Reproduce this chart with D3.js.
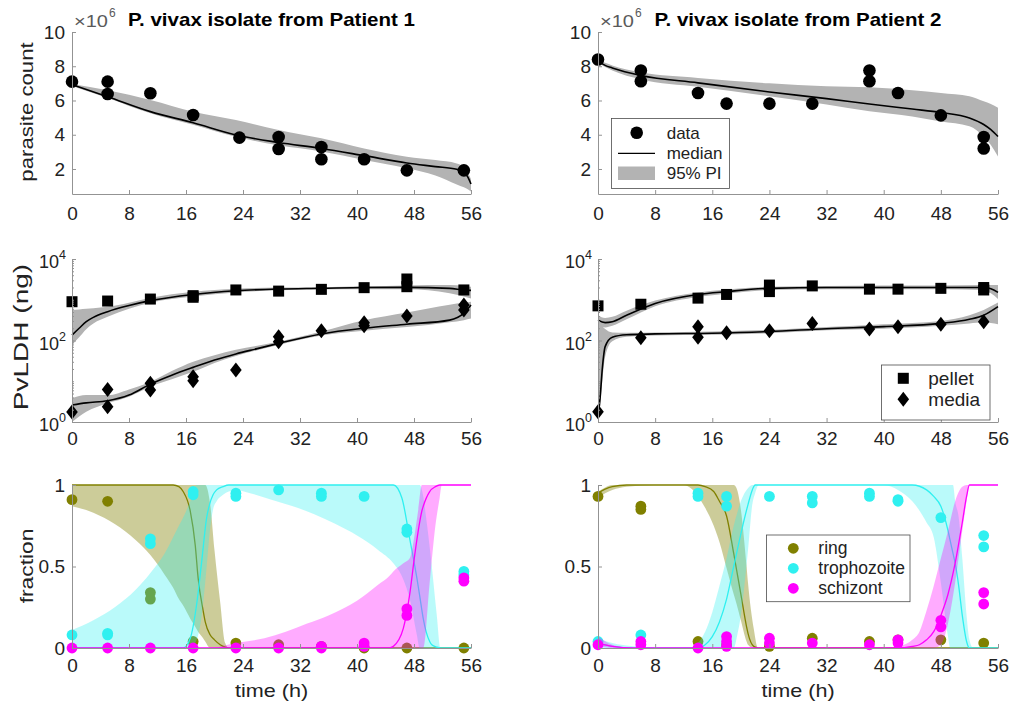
<!DOCTYPE html>
<html>
<head>
<meta charset="utf-8">
<script src="https://cdn.jsdelivr.net/npm/d3@7"></script>
<style>
body { margin: 0; background: #fff; }
svg text { font-family: "Liberation Sans", Arial, Helvetica, sans-serif; }
</style>
</head>
<body>
<script>
// ---- parasite count (x10^6), data points [time, value] and model curves
var p1Count = [[0,7.1],[5,7.1],[5,6.38],[11,6.42],[17,5.15],[23.5,3.83],[29,3.87],[29,3.17],[35,3.28],[35,2.57],[41,2.57],[47,1.92],[55,1.92]];
var p1CountT = [0,5,11,17,23,29,35,41,47,51,54,55,55.6,56];
var p1CountMed = [6.92,6.22,5.35,4.7,3.99,3.55,3.2,2.78,2.35,2.14,1.98,1.82,1.5,1.12];
var p1CountHi = [6.97,6.6,6.03,5.35,4.86,4.28,3.79,3.2,2.72,2.52,2.32,2.1,1.75,1.4];
var p1CountLo = [6.85,6.15,5.25,4.58,3.88,3.38,3.02,2.53,2.04,1.62,1.1,0.93,0.8,0.68];

var p2Count = [[0,8.39],[6,7.75],[6,7.12],[14,6.44],[18,5.82],[24,5.82],[30,5.82],[38,7.75],[38,7.12],[42,6.44],[48,5.13],[54,3.87],[54,3.2]];
var p2CountT = [0,1,2,6,14,24,32,38,44,48,52,54,55,56];
var p2CountMed = [8.3,8.05,7.9,7.46,7.03,6.5,6.11,5.8,5.5,5.3,4.98,4.6,4.3,3.9];
var p2CountHi = [8.38,8.2,8.05,7.65,7.32,7.0,6.83,6.77,6.6,6.44,6.25,5.95,5.8,5.57];
var p2CountLo = [8.2,7.95,7.75,7.23,6.8,6.25,5.76,5.37,5.07,4.78,4.5,3.9,3.4,2.73];

// ---- PvLDH (ng)
var p1Pellet = [[0,895],[5,930],[11,1040],[17,1260],[17,1150],[23,1740],[29,1630],[35,1800],[41,1980],[47,3230],[47,2090],[55,1740]];
var p1Media = [[0,1.76],[5,6.3],[5,2.38],[11,8.9],[11,6.1],[17,12.9],[17,10.3],[23,18.9],[29,124],[29,93],[35,174],[41,274],[41,230],[47,400],[55,745],[55,560]];
var p1PelletT = [0,1,2,3,5,8,11,17,23,29,35,41,47,53,55,56];
var p1PelletMed = [136,200,290,370,510,720,950,1350,1660,1830,1910,2000,2010,1900,1740,1700];
var p1PelletHi = [560,580,600,620,670,850,1120,1580,1860,2000,2040,2140,2240,2290,2190,2090];
var p1PelletLo = [78,120,190,260,380,600,850,1200,1510,1700,1780,1800,1820,1440,1200,1070];
var p1MediaT = [0,2,5,8,11,14,17,20,23,26,29,35,41,47,53,55,56];
var p1MediaMed = [2.61,2.95,3.31,4.57,8.51,14.1,21.9,33.1,46.8,63.1,85.1,145,200,251,316,468,741];
var p1MediaHi = [3.8,4.57,4.57,6.31,9.77,17.8,30.2,43.7,58.9,74.1,93.3,166,316,490,759,851,891];
var p1MediaLo = [1,1.78,2.88,4.17,7.41,11.2,17,28.2,41.7,57.5,77.6,132,174,214,282,316,347];

var p2Pellet = [[0,708],[6,776],[14,1096],[18,1349],[24,2291],[24,1585],[30,2188],[38,1820],[42,1820],[48,1905],[54,1995],[54,1738]];
var p2Media = [[0,1.78],[6,117],[14,219],[14,120],[18,155],[24,174],[30,263],[38,191],[42,219],[48,251],[54,288]];
var p2PelletT = [0,1,2,4,8,14,18,24,32,40,48,54,55,56];
var p2PelletMed = [316,275,288,417,813,1349,1585,1905,1995,1995,1995,1995,1862,1514];
var p2PelletHi = [417,355,380,537,955,1514,1778,2089,2188,2239,2239,2291,2291,2291];
var p2PelletLo = [229,209,229,331,692,1175,1413,1738,1820,1820,1820,1738,1445,1047];
var p2MediaT = [0,0.3,0.6,1,2,4,8,16,24,32,40,48,52,54,56];
var p2MediaMed = [1.35,3.98,20,70.8,120,138,145,151,166,195,219,263,331,417,676];
var p2MediaHi = [282,251,224,191,158,155,158,166,182,214,251,302,417,562,851];
var p2MediaLo = [1,2.5,10,39.8,95.5,123,132,138,151,178,195,229,263,282,251];

// ---- stage fractions, patient 1
var p1Ring = [[0,0.91],[5,0.9],[11,0.34],[11,0.3],[17,0.04],[23,0.03],[29,0.02],[35,0.01],[41,0],[47,0],[55,0]];
var p1Troph = [[0,0.08],[5,0.09],[5,0.08],[11,0.67],[11,0.64],[17,0.96],[17,0.94],[23,0.95],[23,0.93],[29,0.97],[35,0.95],[35,0.93],[41,0.93],[47,0.73],[47,0.71],[55,0.47],[55,0.45]];
var p1Schiz = [[0,0],[5,0],[11,0],[17,0],[23,0],[29,0],[35,0.01],[35,0],[41,0.03],[41,0.01],[47,0.24],[47,0.2],[55,0.43],[55,0.41]];
var p1RingT = [0,3,6,9,11,13,14.2,15,15.6,16.6,17.3,17.7,18.4,18.7,19.4,20,20.8,21.5,22,56];
var p1RingMed = [1,1,1,1,1,1,1,0.99,0.96,0.84,0.63,0.43,0.23,0.16,0.08,0.05,0.02,0.005,0,0];
var p1RingHi = [1,1,1,1,1,1,1,1,1,1,1,1,1,1,0.88,0.6,0.28,0.03,0,0];
var p1RingLo = [0.87,0.83,0.76,0.66,0.57,0.45,0.37,0.3,0.26,0.18,0.13,0.1,0.06,0.04,0,0,0,0,0,0];
var p1TrophT = [0,3,6,9,11,13,15,15.6,16.6,17.5,18.2,18.9,19.3,19.8,20.3,21.2,22,23,25,28,31,34,37,40,43,45.1,46.3,47.4,48.4,48.8,49.3,49.7,50.2,50.5,51.2,51.7,56];
var p1TrophMed = [0,0,0,0,0,0,0,0,0.06,0.27,0.53,0.8,0.88,0.94,0.97,0.99,1,1,1,1,1,1,1,1,1,1,0.92,0.67,0.43,0.32,0.18,0.1,0.04,0.02,0.005,0,0];
var p1TrophHi = [0.11,0.17,0.25,0.36,0.46,0.58,0.75,0.8,0.9,1,1,1,1,1,1,1,1,1,1,1,1,1,1,1,1,1,1,1,1,1,0.93,0.8,0.62,0.5,0.2,0,0];
var p1TrophLo = [0,0,0,0,0,0,0,0,0,0.05,0.2,0.5,0.7,0.85,0.9,0.94,0.96,0.97,0.95,0.91,0.87,0.82,0.76,0.69,0.6,0.52,0.44,0.3,0.08,0,0,0,0,0,0,0,0];
var p1SchizT = [0,20,21,23,27,30,33,36,40,43,44.5,45.1,46.5,47.4,48.1,48.6,49.1,49.3,50.2,51,51.6,51.9,56];
var p1SchizMed = [0,0,0,0,0,0,0,0,0,0,0,0.01,0.12,0.33,0.57,0.72,0.84,0.87,0.96,0.99,1,1,1];
var p1SchizHi = [0,0,0.01,0.03,0.06,0.1,0.15,0.2,0.29,0.39,0.44,0.47,0.52,0.55,0.7,0.85,1,1,1,1,1,1,1];
var p1SchizLo = [0,0,0,0,0,0,0,0,0,0,0,0,0,0,0,0,0,0,0.4,0.75,0.92,1,1];

// ---- stage fractions, patient 2
var p2Ring = [[0,0.93],[6,0.87],[6,0.85],[14,0.04],[18,0.02],[24,0.01],[30,0.06],[38,0.04],[42,0.05],[48,0.05],[54,0.03]];
var p2Troph = [[0,0.04],[6,0.08],[14,0.95],[14,0.93],[18,0.93],[18,0.87],[24,0.93],[30,0.93],[30,0.89],[38,0.95],[38,0.93],[42,0.91],[42,0.9],[48,0.8],[54,0.69],[54,0.62]];
var p2Schiz = [[0,0.02],[6,0.04],[6,0.02],[14,0],[18,0.07],[18,0.04],[18,0.01],[24,0.06],[24,0.03],[30,0.03],[38,0.02],[42,0.05],[42,0.03],[48,0.17],[48,0.13],[54,0.34],[54,0.27]];
var p2RingT = [0,1,2,4,8,12,13,14,15,16.2,17,18,19,19.4,20,20.8,21,21.8,22.4,56];
var p2RingMed = [0.95,0.975,0.99,1,1,1,1,1,0.99,0.96,0.9,0.81,0.58,0.48,0.33,0.13,0.09,0.01,0,0];
var p2RingHi = [0.96,0.985,1,1,1,1,1,1,1,1,1,1,1,0.98,0.85,0.5,0.4,0.12,0,0];
var p2RingLo = [0.92,0.95,0.97,0.99,1,1,0.98,0.93,0.86,0.75,0.65,0.49,0.33,0.27,0.17,0.04,0.02,0,0,0];
var p2TrophT = [0,2,5,8,13,14,15,16,17,18,19,19.5,20,21,21.6,22,22.5,40,42,43,44,46,47,48,49,49.3,49.7,50,50.5,51,51.6,52,52.5,56];
var p2TrophMed = [0.03,0.01,0,0,0,0,0.02,0.07,0.16,0.3,0.5,0.6,0.7,0.88,0.97,1,1,1,1,1,1,0.97,0.93,0.87,0.72,0.66,0.58,0.52,0.38,0.2,0.04,0,0,0];
var p2TrophHi = [0.06,0.03,0.01,0,0,0.03,0.1,0.22,0.38,0.55,0.75,0.83,0.9,0.98,1,1,1,1,1,1,1,1,1,1,1,1,1,0.9,0.8,0.55,0.2,0.05,0,0];
var p2TrophLo = [0,0,0,0,0,0,0,0,0,0,0,0.08,0.2,0.6,0.88,0.95,1,1,0.97,0.94,0.9,0.77,0.68,0.4,0.07,0,0,0,0,0,0,0,0,0];
var p2SchizT = [0,2,5,40,42,44,45,46,47,48,49,50,51,51.6,52,56];
var p2SchizMed = [0.03,0.01,0,0,0,0.01,0.02,0.05,0.1,0.2,0.33,0.52,0.77,0.93,1,1];
var p2SchizHi = [0.07,0.02,0,0,0.01,0.05,0.1,0.23,0.38,0.55,0.72,0.9,0.99,1,1,1];
var p2SchizLo = [0.01,0,0,0,0,0,0,0,0,0.02,0.15,0.4,0.72,0.9,1,1];

// ---- ticks and labels
var xTicks = [0, 8, 16, 24, 32, 40, 48, 56];
var countTicks = [2, 4, 6, 8, 10];
var ldhTicks = [1, 100, 10000];
var ldhExp = ["0", "2", "4"];
var fracTicks = [0, 0.5, 1];
var fracTickLabels = ["0", "0.5", "1"];
var titles = ["P. vivax isolate from Patient 1", "P. vivax isolate from Patient 2"];
var stageNames = ["ring", "trophozoite", "schizont"];
var stageColors = ["#808000", "#2ff0f0", "#ff00ff"];

var axisColor = "#939393";
var textColor = "#222";
var bandGray = "#b3b3b3";

var svg = d3.select("body").append("svg").attr("width", 1011).attr("height", 706);

var cols = [[72, 471], [598, 998]];

drawFigure();

function drawFigure() {
	var p1 = {count: p1Count, countT: p1CountT, countMed: p1CountMed, countHi: p1CountHi, countLo: p1CountLo,
		pellet: p1Pellet, media: p1Media,
		pelletT: p1PelletT, pelletMed: p1PelletMed, pelletHi: p1PelletHi, pelletLo: p1PelletLo,
		mediaT: p1MediaT, mediaMed: p1MediaMed, mediaHi: p1MediaHi, mediaLo: p1MediaLo,
		stages: [[p1Ring, p1RingT, p1RingMed, p1RingHi, p1RingLo],
			[p1Troph, p1TrophT, p1TrophMed, p1TrophHi, p1TrophLo],
			[p1Schiz, p1SchizT, p1SchizMed, p1SchizHi, p1SchizLo]]};
	var p2 = {count: p2Count, countT: p2CountT, countMed: p2CountMed, countHi: p2CountHi, countLo: p2CountLo,
		pellet: p2Pellet, media: p2Media,
		pelletT: p2PelletT, pelletMed: p2PelletMed, pelletHi: p2PelletHi, pelletLo: p2PelletLo,
		mediaT: p2MediaT, mediaMed: p2MediaMed, mediaHi: p2MediaHi, mediaLo: p2MediaLo,
		stages: [[p2Ring, p2RingT, p2RingMed, p2RingHi, p2RingLo],
			[p2Troph, p2TrophT, p2TrophMed, p2TrophHi, p2TrophLo],
			[p2Schiz, p2SchizT, p2SchizMed, p2SchizHi, p2SchizLo]]};
	var pats = [p1, p2];

	for (var c = 0; c < 2; c++) {
		var x = d3.scaleLinear().domain([0, 56]).range(cols[c]);
		drawCountPanel(pats[c], x, c);
		drawLdhPanel(pats[c], x, c);
		drawFracPanel(pats[c], x, c);
	}

	// y labels (left column only)
	addText(33, 112, "parasite count", 18.5, {rotate: -90, sx: 1.2, anchor: "middle"});
	addText(28, 337, "PvLDH (ng)", 20, {rotate: -90, sx: 1.4, anchor: "middle"});
	addText(33, 566, "fraction", 19, {rotate: -90, sx: 1.2, anchor: "middle"});

	drawLegends();
}

function addText(x, y, str, size, opts) {
	opts = opts || {};
	var tr = "translate(" + x + "," + y + ")";
	if (opts.rotate) tr += " rotate(" + opts.rotate + ")";
	if (opts.sx) tr += " scale(" + opts.sx + ",1)";
	return svg.append("text")
		.attr("transform", tr)
		.attr("font-size", size)
		.attr("font-weight", opts.weight || "normal")
		.attr("text-anchor", opts.anchor || "start")
		.attr("fill", opts.color || textColor)
		.text(str);
}

function styleAxis(ax, size) {
	ax.attr("font-family", null).attr("font-size", null);
	ax.select(".domain").attr("stroke", axisColor);
	ax.selectAll(".tick line").attr("stroke", axisColor);
	ax.selectAll(".tick text").attr("fill", textColor).attr("font-size", size);
}

function drawXAxis(x, y0, pad) {
	var ax = svg.append("g")
		.attr("transform", "translate(0," + y0 + ")")
		.call(d3.axisBottom(x).tickValues(xTicks).tickSize(-4).tickSizeOuter(0).tickPadding(pad));
	styleAxis(ax, 19);
}

function drawYAxis(y, x0, ticks, labels) {
	var ax = svg.append("g")
		.attr("transform", "translate(" + x0 + ",0)")
		.call(d3.axisLeft(y).tickValues(ticks).tickSize(-4).tickSizeOuter(0).tickPadding(7)
			.tickFormat(function(d, i) { return labels ? labels[i] : d; }));
	styleAxis(ax, 19);
}

function drawBand(t, lo, hi, x, y, color, opacity) {
	var area = d3.area()
		.x(function(d, i) { return x(t[i]); })
		.y0(function(d, i) { return y(lo[i]); })
		.y1(function(d, i) { return y(hi[i]); })
		.curve(d3.curveMonotoneX);
	svg.append("path").datum(t).attr("d", area)
		.attr("fill", color).attr("fill-opacity", opacity).attr("stroke", "none");
}

function drawMedian(t, med, x, y, color, w) {
	var line = d3.line()
		.x(function(d, i) { return x(t[i]); })
		.y(function(d, i) { return y(med[i]); })
		.curve(d3.curveMonotoneX);
	svg.append("path").datum(t).attr("d", line)
		.attr("fill", "none").attr("stroke", color).attr("stroke-width", w);
}

function drawDots(pts, x, y, r, color) {
	svg.append("g").selectAll("circle").data(pts).join("circle")
		.attr("cx", function(d) { return x(d[0]); })
		.attr("cy", function(d) { return y(d[1]); })
		.attr("r", r)
		.attr("fill", color);
}

function drawSquares(pts, x, y, s) {
	svg.append("g").selectAll("rect").data(pts).join("rect")
		.attr("x", function(d) { return x(d[0]) - s / 2; })
		.attr("y", function(d) { return y(d[1]) - s / 2; })
		.attr("width", s).attr("height", s)
		.attr("fill", "#000");
}

function diamondPath(cx, cy) {
	return "M" + cx + "," + (cy - 7.5) + "L" + (cx + 5.8) + "," + cy + "L" + cx + "," + (cy + 7.5) + "L" + (cx - 5.8) + "," + cy + "Z";
}

function drawDiamonds(pts, x, y) {
	svg.append("g").selectAll("path").data(pts).join("path")
		.attr("d", function(d) { return diamondPath(x(d[0]), y(d[1])); })
		.attr("fill", "#000");
}

function drawCountPanel(p, x, c) {
	var y = d3.scaleLinear().domain([0.54, 10]).range([194, 32]);
	drawBand(p.countT, p.countLo, p.countHi, x, y, bandGray, 1);
	drawMedian(p.countT, p.countMed, x, y, "#000", 1.6);
	drawDots(p.count, x, y, 6.3, "#000");
	drawXAxis(x, 194, 13);
	drawYAxis(y, cols[c][0], countTicks);

	var cx = (cols[c][0] + cols[c][1]) / 2;
	addText(cx, 26, titles[c], 18, {weight: "bold", sx: 1.14, anchor: "middle", color: "#000"});
	addText(cols[c][0] + 2, 27, "\u00d710", 16, {sx: 1.25, color: "#5a5a5a"});
	addText(cols[c][0] + 37, 17, "6", 12, {color: "#5a5a5a"});
}

function drawLdhPanel(p, x, c) {
	var y = d3.scaleLog().domain([1, 10000]).range([422, 259]);
	drawBand(p.pelletT, p.pelletLo, p.pelletHi, x, y, bandGray, 1);
	drawBand(p.mediaT, p.mediaLo, p.mediaHi, x, y, bandGray, 1);
	drawMedian(p.pelletT, p.pelletMed, x, y, "#000", 1.6);
	drawMedian(p.mediaT, p.mediaMed, x, y, "#000", 1.6);
	drawSquares(p.pellet, x, y, 11);
	drawDiamonds(p.media, x, y);
	drawXAxis(x, 422, 10);

	var x0 = cols[c][0];
	var minor = [];
	[1, 10, 100, 1000].forEach(function(b) {
		for (var k = 2; k <= 10; k++) minor.push(b * k);
	});
	var mx = svg.append("g").attr("transform", "translate(" + x0 + ",0)")
		.call(d3.axisLeft(y).tickValues(minor).tickSize(-2).tickSizeOuter(0).tickFormat(""));
	styleAxis(mx, 19);
	var ax = svg.append("g").attr("transform", "translate(" + x0 + ",0)")
		.call(d3.axisLeft(y).tickValues(ldhTicks).tickSize(-4).tickSizeOuter(0).tickFormat(""));
	styleAxis(ax, 19);

	ldhTicks.forEach(function(v, i) {
		var t = svg.append("text")
			.attr("x", x0 - 6).attr("y", y(v) + 9)
			.attr("text-anchor", "end").attr("fill", textColor);
		t.append("tspan").attr("font-size", 18).text("10");
		t.append("tspan").attr("font-size", 12.5).attr("dy", -9).text(ldhExp[i]);
	});
}

function drawFracPanel(p, x, c) {
	var y = d3.scaleLinear().domain([0, 1]).range([648, 485]);
	for (var s = 0; s < 3; s++) {
		var st = p.stages[s];
		drawBand(st[1], st[4], st[3], x, y, stageColors[s], s == 0 ? 0.4 : 0.33);
		drawMedian(st[1], st[2], x, y, stageColors[s], 1.3);
		drawDots(st[0], x, y, 5.4, stageColors[s]);
	}
	drawXAxis(x, 648, 11);
	drawYAxis(y, cols[c][0], fracTicks, fracTickLabels);
	addText((cols[c][0] + cols[c][1]) / 2, 697, "time (h)", 18, {sx: 1.2, anchor: "middle"});
}

function drawLegends() {
	// count legend
	svg.append("rect").attr("x", 611.5).attr("y", 118.5).attr("width", 118).attr("height", 70)
		.attr("fill", "#fff").attr("stroke", "#4d4d4d").attr("stroke-width", 0.8);
	svg.append("circle").attr("cx", 636.7).attr("cy", 132.7).attr("r", 6.3).attr("fill", "#000");
	svg.append("line").attr("x1", 618).attr("x2", 655).attr("y1", 153.3).attr("y2", 153.3)
		.attr("stroke", "#000").attr("stroke-width", 1.3);
	svg.append("rect").attr("x", 618).attr("y", 166.5).attr("width", 37).attr("height", 13.5).attr("fill", bandGray);
	addText(666.7, 138.7, "data", 17);
	addText(666.7, 159.3, "median", 17);
	addText(666.7, 179.3, "95% PI", 17);

	// LDH legend
	svg.append("rect").attr("x", 881.5).attr("y", 365).attr("width", 108.5).attr("height", 55)
		.attr("fill", "#fff").attr("stroke", "#4d4d4d").attr("stroke-width", 0.8);
	svg.append("rect").attr("x", 903.3 - 5.5).attr("y", 378.3 - 5.5).attr("width", 11).attr("height", 11).attr("fill", "#000");
	svg.append("path").attr("d", diamondPath(903.3, 399.3)).attr("fill", "#000");
	addText(928.3, 385, "pellet", 19);
	addText(928.3, 406, "media", 19);

	// stage legend
	svg.append("rect").attr("x", 766.5).attr("y", 535).attr("width", 143.5).attr("height", 66.7)
		.attr("fill", "#fff").attr("stroke", "#4d4d4d").attr("stroke-width", 0.8);
	stageNames.forEach(function(n, i) {
		var ly = 548.3 + i * 20;
		svg.append("circle").attr("cx", 793.3).attr("cy", ly).attr("r", 5.4).attr("fill", stageColors[i]);
		addText(818.3, ly + 6, n, 17.5);
	});
}
</script>
</body>
</html>
